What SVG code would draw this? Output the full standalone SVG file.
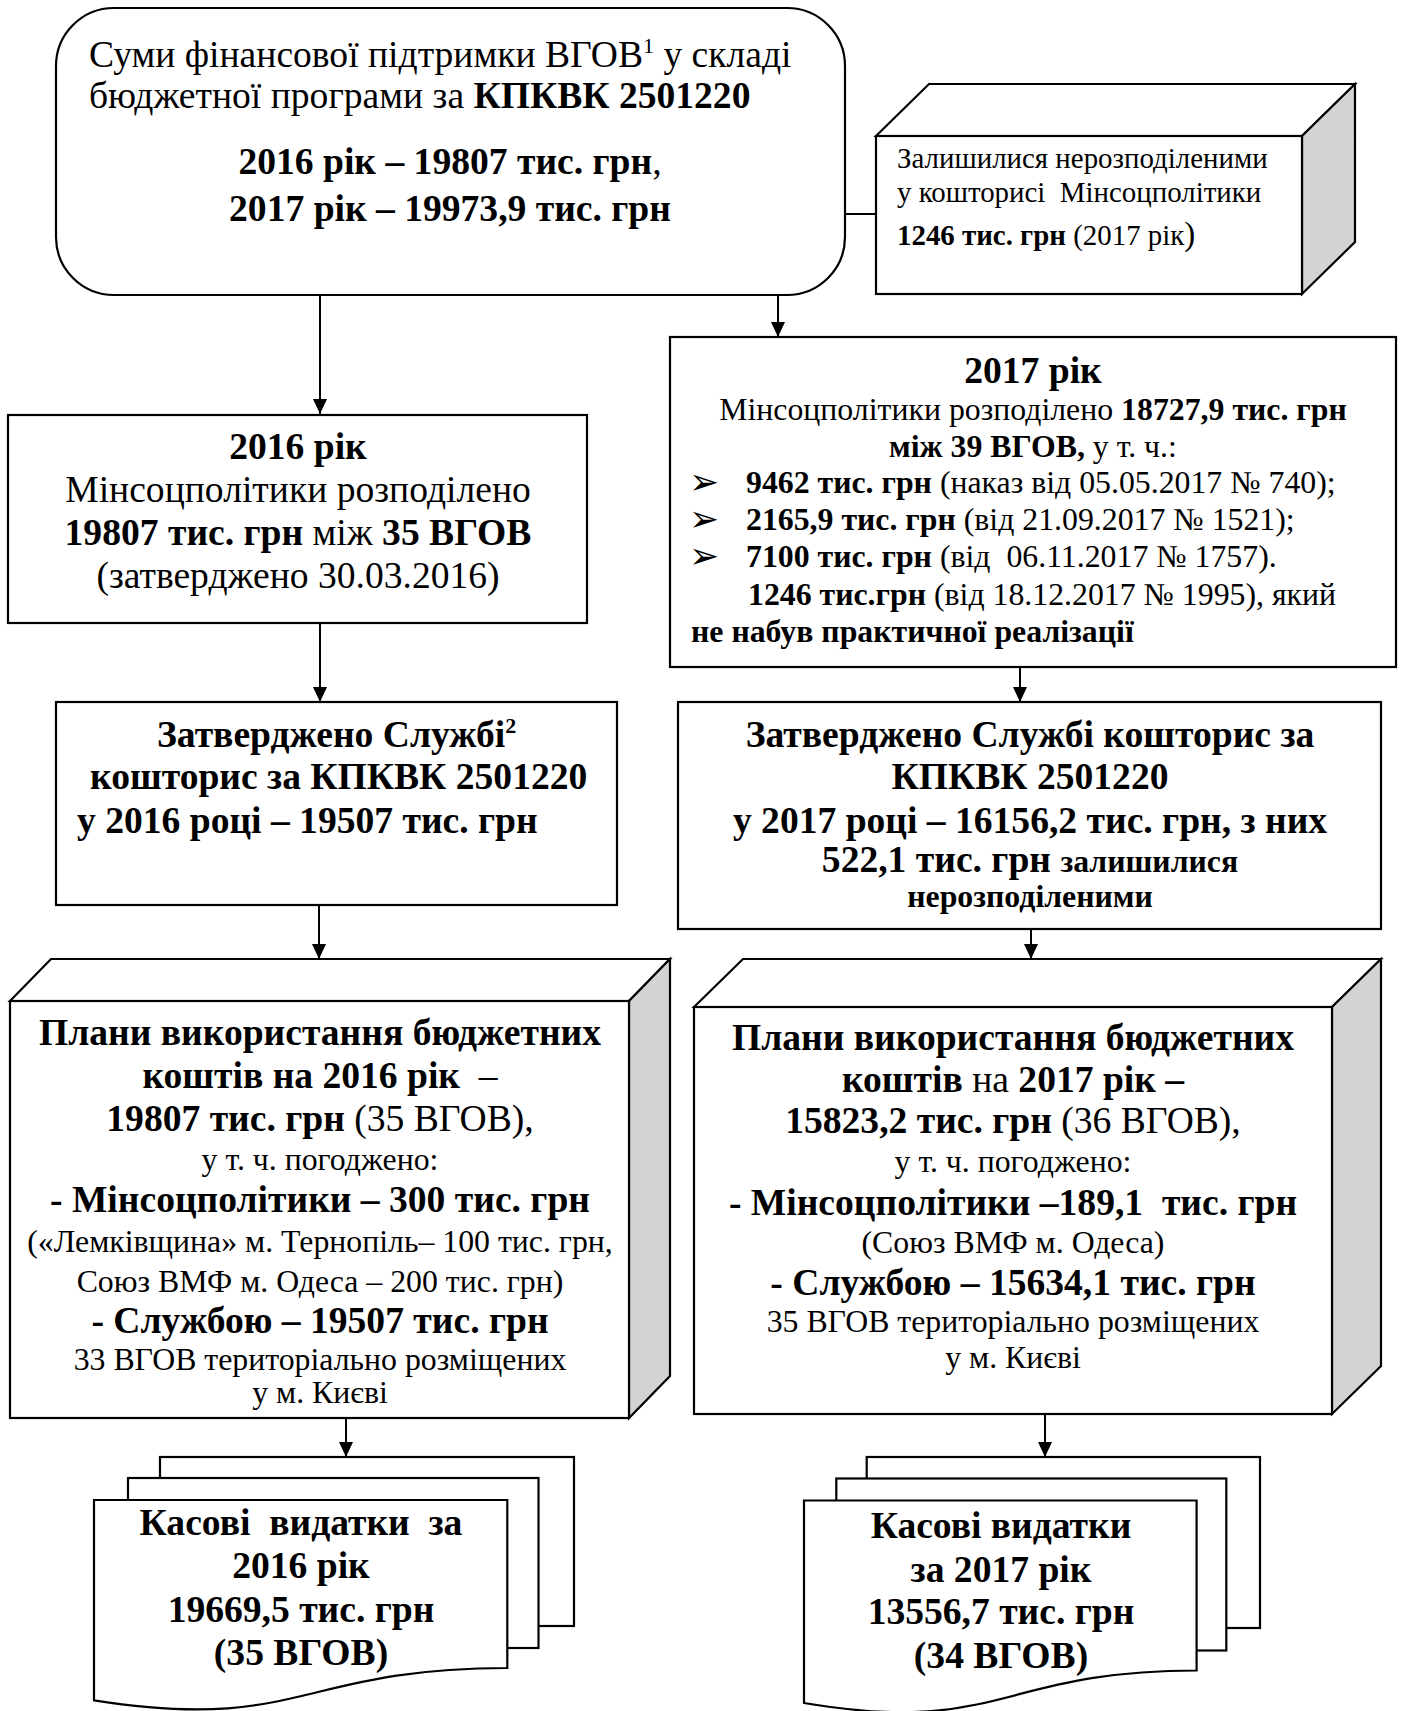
<svg xmlns="http://www.w3.org/2000/svg" width="1403" height="1711" viewBox="0 0 1403 1711">
<style>
text{font-family:"Liberation Serif","Times New Roman",serif;fill:#000}
.b{font-weight:bold}
.f13{font-size:37.6px}
.f11{font-size:31.8px}
.f10{font-size:28.9px}
.c{text-anchor:middle}
.box{fill:#fff;stroke:#000;stroke-width:2.2}
.side{fill:#d3d3d3;stroke:#000;stroke-width:2.2;stroke-linejoin:miter}
.con{fill:none;stroke:#000;stroke-width:2}
.bul{font-family:"DejaVu Sans",sans-serif;font-size:36px}
</style>
<defs>
<marker id="ah" markerUnits="userSpaceOnUse" markerWidth="15" markerHeight="16" viewBox="0 0 15 16" refX="15" refY="8" orient="auto">
<path d="M0,1 L15,8 L0,15 Z" fill="#000"/>
</marker>
</defs>

<g id="connectors">
<line class="con" x1="320" y1="296" x2="320" y2="414" marker-end="url(#ah)"/>
<line class="con" x1="778" y1="296" x2="778" y2="337" marker-end="url(#ah)"/>
<line class="con" x1="845" y1="214" x2="876" y2="214"/>
<line class="con" x1="320" y1="623" x2="320" y2="702" marker-end="url(#ah)"/>
<line class="con" x1="1020" y1="668" x2="1020" y2="702" marker-end="url(#ah)"/>
<line class="con" x1="319" y1="906" x2="319" y2="959" marker-end="url(#ah)"/>
<line class="con" x1="1031" y1="930" x2="1031" y2="959" marker-end="url(#ah)"/>
<line class="con" x1="346" y1="1419" x2="346" y2="1457" marker-end="url(#ah)"/>
<line class="con" x1="1045" y1="1415" x2="1045" y2="1457" marker-end="url(#ah)"/>
</g>

<g id="top-box">
<rect class="box" x="56" y="8" width="789" height="287" rx="58" ry="58"/>
<text class="f13" x="89" y="67">Суми фінансової підтримки ВГОВ<tspan dy="-14" font-size="22">1</tspan><tspan dy="14"> у складі</tspan></text>
<text class="f13" x="89" y="108">бюджетної програми за <tspan class="b">КПКВК 2501220</tspan></text>
<text class="f13 b c" x="450" y="174">2016 рік – 19807 тис. грн<tspan font-weight="normal">,</tspan></text>
<text class="f13 b c" x="450" y="221">2017 рік – 19973,9 тис. грн</text>
</g>

<g id="unallocated-box">
<polygon class="box" points="876,136 929,84 1355,84 1302,136"/>
<polygon class="side" points="1302,136 1355,84 1355,242 1302,294"/>
<rect class="box" x="876" y="136" width="426" height="158"/>
<text class="f10" x="897" y="168">Залишилися нерозподіленими</text>
<text class="f10" x="897" y="202">у кошторисі&#160; Мінсоцполітики</text>
<text class="f10" x="897" y="245"><tspan class="b">1246 тис. грн</tspan> (2017 рік<tspan font-size="33">)</tspan></text>
</g>

<g id="y2016-box">
<rect class="box" x="8" y="415" width="579" height="208"/>
<text class="f13 b c" x="298" y="459">2016 рік</text>
<text class="f13 c" x="298" y="502">Мінсоцполітики розподілено</text>
<text class="f13 c" x="298" y="545"><tspan class="b">19807 тис. грн</tspan> між <tspan class="b">35 ВГОВ</tspan></text>
<text class="f13 c" x="298" y="588">(затверджено 30.03.2016)</text>
</g>

<g id="y2017-box">
<rect class="box" x="670" y="337" width="726" height="330"/>
<text class="f13 b c" x="1033" y="383">2017 рік</text>
<text class="f11 c" x="1033" y="420">Мінсоцполітики розподілено <tspan class="b">18727,9 тис. грн</tspan></text>
<text class="f11 c" x="1033" y="457"><tspan class="b">між 39 ВГОВ,</tspan> у т. ч.:</text>
<text class="bul" x="689" y="494">➢</text>
<text class="f11" x="746" y="493"><tspan class="b">9462 тис. грн</tspan> (наказ від 05.05.2017 № 740);</text>
<text class="bul" x="689" y="531">➢</text>
<text class="f11" x="746" y="530"><tspan class="b">2165,9 тис. грн</tspan> (від 21.09.2017 № 1521);</text>
<text class="bul" x="689" y="568">➢</text>
<text class="f11" x="746" y="567"><tspan class="b">7100 тис. грн</tspan> (від&#160; 06.11.2017 № 1757).</text>
<text class="f11" x="748" y="605"><tspan class="b">1246 тис.грн</tspan> (від 18.12.2017 № 1995), який</text>
<text class="f11 b" x="691" y="642">не набув практичної реалізації</text>
</g>

<g id="approved-2016">
<rect class="box" x="56" y="702" width="561" height="203"/>
<text class="f13 b" x="157" y="747">Затверджено Службі<tspan dy="-14" font-size="22">2</tspan></text>
<text class="f13 b" x="90" y="789">кошторис за КПКВК 2501220</text>
<text class="f13 b" x="77" y="833">у 2016 році – 19507 тис. грн</text>
</g>

<g id="approved-2017">
<rect class="box" x="678" y="702" width="703" height="227"/>
<text class="f13 b c" x="1030" y="747">Затверджено Службі кошторис за</text>
<text class="f13 b c" x="1030" y="789">КПКВК 2501220</text>
<text class="f13 b c" x="1030" y="833">у 2017 році – 16156,2 тис. грн, з них</text>
<text class="f13 b c" x="1030" y="872">522,1 тис. грн <tspan class="f11">залишилися</tspan></text>
<text class="f11 b c" x="1030" y="907">нерозподіленими</text>
</g>

<g id="plans-2016">
<polygon class="box" points="10,1001 51,959 670,959 629,1001"/>
<polygon class="side" points="629,1001 670,959 670,1376 629,1418"/>
<rect class="box" x="10" y="1001" width="619" height="417"/>
<text class="f13 b c" x="320" y="1045">Плани використання бюджетних</text>
<text class="f13 b c" x="320" y="1088">коштів на 2016 рік&#160; <tspan font-weight="normal">–</tspan></text>
<text class="f13 c" x="320" y="1131"><tspan class="b">19807 тис. грн</tspan> (35 ВГОВ),</text>
<text class="f11 c" x="320" y="1170">у т. ч. погоджено:</text>
<text class="f13 b c" x="320" y="1212">- Мінсоцполітики – 300 тис. грн</text>
<text class="f11 c" x="320" y="1252">(«Лемківщина» м. Тернопіль– 100 тис. грн,</text>
<text class="f11 c" x="320" y="1292">Союз ВМФ м. Одеса – 200 тис. грн)</text>
<text class="f13 b c" x="320" y="1333">- Службою – 19507 тис. грн</text>
<text class="f11 c" x="320" y="1370">33 ВГОВ територіально розміщених</text>
<text class="f11 c" x="320" y="1403">у м. Києві</text>
</g>

<g id="plans-2017">
<polygon class="box" points="694,1007 743,959 1381,959 1332,1007"/>
<polygon class="side" points="1332,1007 1381,959 1381,1366 1332,1414"/>
<rect class="box" x="694" y="1007" width="638" height="407"/>
<text class="f13 b c" x="1013" y="1050">Плани використання бюджетних</text>
<text class="f13 b c" x="1013" y="1092">коштів <tspan font-weight="normal">на</tspan> 2017 рік –</text>
<text class="f13 c" x="1013" y="1133"><tspan class="b">15823,2 тис. грн</tspan> (36 ВГОВ),</text>
<text class="f11 c" x="1013" y="1172">у т. ч. погоджено:</text>
<text class="f13 b c" x="1013" y="1215">- Мінсоцполітики –189,1&#160; тис. грн</text>
<text class="f11 c" x="1013" y="1253">(Союз ВМФ м. Одеса)</text>
<text class="f13 b c" x="1013" y="1295">- Службою – 15634,1 тис. грн</text>
<text class="f11 c" x="1013" y="1332">35 ВГОВ територіально розміщених</text>
<text class="f11 c" x="1013" y="1368">у м. Києві</text>
</g>

<g id="cash-2016">
<rect class="box" x="160" y="1457" width="414" height="169"/>
<rect class="box" x="128" y="1478" width="410.5" height="170"/>
<path class="box" d="M94,1500 H507.3 V1668 C300,1668 300,1732.8 94,1700.4 Z"/>
<text class="f13 b c" x="301" y="1535">Касові&#160; видатки&#160; за</text>
<text class="f13 b c" x="301" y="1578">2016 рік</text>
<text class="f13 b c" x="301" y="1622">19669,5 тис. грн</text>
<text class="f13 b c" x="301" y="1665">(35 ВГОВ)</text>
</g>

<g id="cash-2017">
<rect class="box" x="866.7" y="1457" width="393.3" height="171"/>
<rect class="box" x="836.3" y="1478.5" width="390" height="172"/>
<path class="box" d="M804,1500.5 H1196.6 V1670.5 C1000,1670.5 1000,1736 804,1703 Z"/>
<text class="f13 b c" x="1001" y="1538">Касові видатки</text>
<text class="f13 b c" x="1001" y="1582">за 2017 рік</text>
<text class="f13 b c" x="1001" y="1624">13556,7 тис. грн</text>
<text class="f13 b c" x="1001" y="1668">(34 ВГОВ)</text>
</g>
</svg>
